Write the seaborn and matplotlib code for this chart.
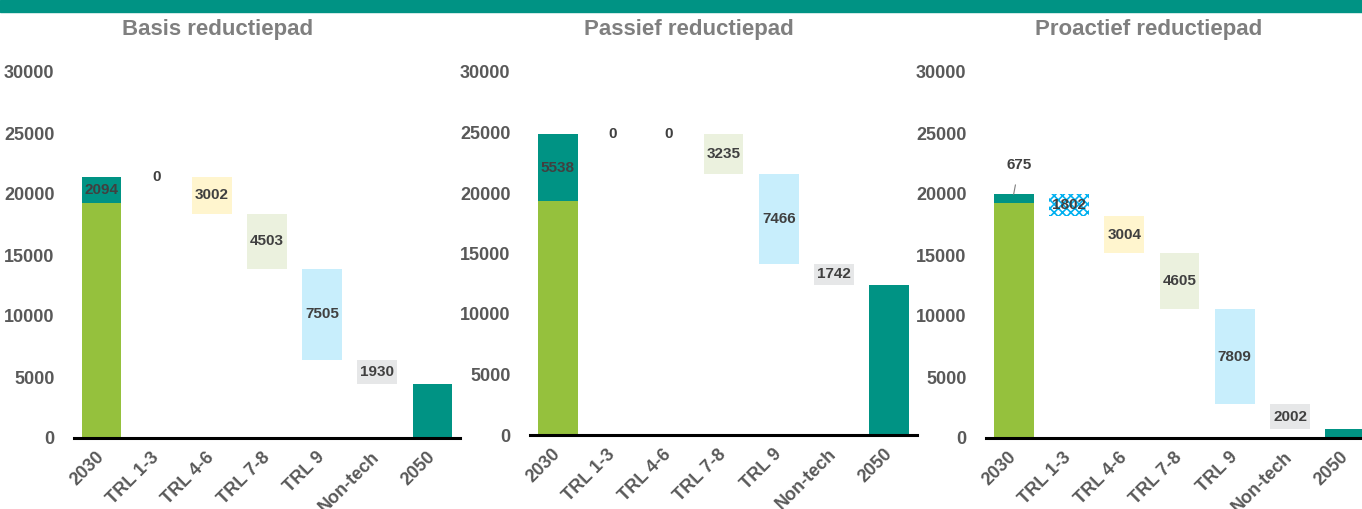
import matplotlib
matplotlib.use('Agg')
import matplotlib.pyplot as plt
import matplotlib.transforms as mtransforms
import seaborn as sns

# data
categories = ['2030', 'TRL 1-3', 'TRL 4-6', 'TRL 7-8', 'TRL 9', 'Non-tech', '2050']
titles = ['Basis reductiepad', 'Passief reductiepad', 'Proactief reductiepad']
base_2030 = [19300, 19300, 19300]
extra_2030 = [2094, 5538, 675]
basis_steps = [0, 3002, 4503, 7505, 1930]
passief_steps = [0, 0, 3235, 7466, 1742]
proactief_steps = [1802, 3004, 4605, 7809, 2002]
all_steps = [basis_steps, passief_steps, proactief_steps]

GREEN = '#95C13D'
TEAL = '#009384'
step_colors = ['#FFFFFF', '#FFF5CE', '#EBF1DE', '#C8EEFC', '#E6E7E8']
TICK_C = '#595959'
LABEL_C = '#404040'

sns.set_theme(style='white')
plt.rcParams['font.family'] = ['Liberation Sans Narrow', 'Liberation Sans', 'DejaVu Sans']
plt.rcParams['font.weight'] = 'bold'
plt.rcParams['hatch.linewidth'] = 1.2

fig = plt.figure(figsize=(13.62, 5.09), dpi=100)

# top banner (cropped)
fig.patches.append(plt.Rectangle((0, 1 - 12 / 509), 1, 12 / 509, transform=fig.transFigure,
                                 color=TEAL, zorder=0))

positions = [[74 / 1362, 71 / 509, 386 / 1362, 366 / 509],
             [530 / 1362, 74 / 509, 387 / 1362, 363 / 509],
             [986 / 1362, 71 / 509, 387 / 1362, 366 / 509]]
title_x = [218, 689, 1149]

for i in range(3):
    ax = fig.add_axes(positions[i])
    x = list(range(len(categories)))
    steps = all_steps[i]

    # 2030 bar
    ax.bar(0, base_2030[i], width=0.72, color=GREEN, linewidth=0, zorder=2)
    ax.bar(0, extra_2030[i], bottom=base_2030[i], width=0.72, color=TEAL, linewidth=0, zorder=2)
    level = base_2030[i] + extra_2030[i]
    if i == 2:
        ax.annotate(str(extra_2030[i]), xy=(0, level), xytext=(0.1, level + 2400),
                    ha='center', va='center', fontsize=11, color=LABEL_C, fontweight='bold',
                    arrowprops=dict(arrowstyle='-', color='#7F7F7F', lw=0.8, shrinkA=7, shrinkB=0))
    else:
        ax.text(0, base_2030[i] + extra_2030[i] / 2, str(extra_2030[i]), ha='center', va='center',
                fontsize=11, color=LABEL_C, fontweight='bold', zorder=3)

    for j, val in enumerate(steps):
        pos = j + 1
        bottom = level - val
        if val == 0:
            ax.text(pos, level, '0', ha='center', va='center', fontsize=11,
                    color=LABEL_C, fontweight='bold')
        else:
            if i == 2 and j == 0:
                ax.bar(pos, val, bottom=bottom, width=0.72, facecolor='white',
                       edgecolor='#00B0F0', hatch='xxxx', linewidth=0, zorder=2)
            else:
                ax.bar(pos, val, bottom=bottom, width=0.72, color=step_colors[j],
                       linewidth=0, zorder=2)
            ax.text(pos, bottom + val / 2, str(val), ha='center', va='center', fontsize=11,
                    color=LABEL_C, fontweight='bold', zorder=3)
        level = bottom

    # 2050 bar
    ax.bar(6, level, width=0.72, color=TEAL, linewidth=0, zorder=2)

    ax.set_xlim(-0.5, 6.5)
    ax.set_ylim(0, 30000)
    ax.set_yticks(range(0, 30001, 5000))
    ax.set_xticks(x)
    ax.set_xticklabels(categories, rotation=45, ha='right', va='center',
                       rotation_mode='anchor')
    offset = mtransforms.ScaledTranslation(10 / 100, -6 / 100, fig.dpi_scale_trans)
    for lab in ax.get_xticklabels():
        lab.set_transform(lab.get_transform() + offset)
    ax.tick_params(axis='y', length=0, pad=14, labelsize=13, labelcolor=TICK_C)
    ax.tick_params(axis='x', length=0, pad=12, labelsize=13, labelcolor=TICK_C)
    for lab in ax.get_xticklabels() + ax.get_yticklabels():
        lab.set_fontweight('bold')
    for s in ['top', 'right', 'left']:
        ax.spines[s].set_visible(False)
    ax.spines['bottom'].set_color('black')
    ax.spines['bottom'].set_linewidth(2.2)
    ax.spines['bottom'].set_zorder(4)
    ax.set_facecolor('none')
    ax.grid(False)

    fig.text(title_x[i] / 1362, 1 - 29 / 509, titles[i], ha='center', va='center',
             fontsize=16, color='#7F7F7F', fontweight='bold')

fig.savefig('out.png', dpi=100)
